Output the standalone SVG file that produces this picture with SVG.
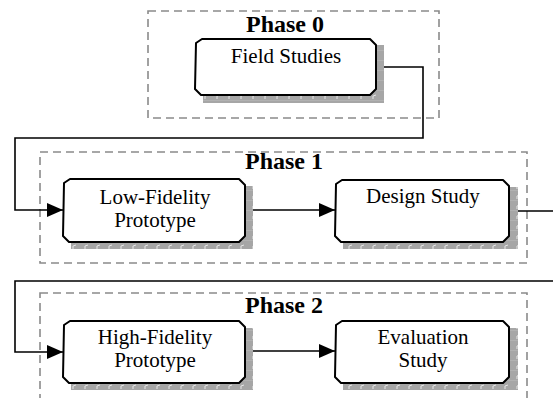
<svg xmlns="http://www.w3.org/2000/svg" width="553" height="398" viewBox="0 0 553 398">
<style>
.phase{fill:none;stroke:#8a8a8a;stroke-width:1.6;stroke-dasharray:8 5}
.ptitle{font-family:"Liberation Serif","Times New Roman",serif;font-weight:bold;font-size:24px;text-anchor:middle;fill:#000}
.label{font-family:"Liberation Serif","Times New Roman",serif;font-size:21px;text-anchor:middle;fill:#000}
.box{fill:#fff;stroke:#000;stroke-width:2;stroke-linejoin:round}
.shadow{fill:url(#tex)}
.conn{fill:none;stroke:#000;stroke-width:1.6}
</style>
<defs>
<pattern id="tex" width="12" height="10" patternUnits="userSpaceOnUse">
<rect width="12" height="10" fill="#a6a6a6"/>
<path d="M1 9 L1 6 L4 5" fill="none" stroke="#e6e6e6" stroke-width="1"/>
<path d="M0 0 H12" stroke="#bdbdbd" stroke-width="1"/>
</pattern>
<marker id="arr" markerWidth="16" markerHeight="14" refX="16" refY="7" orient="auto" markerUnits="userSpaceOnUse">
<path d="M0 0 L16 7 L0 14 Z" fill="#000"/>
</marker>
</defs>

<g id="phase0">
<rect class="phase" x="148" y="11" width="291" height="107"/>
<text class="ptitle" x="285" y="32">Phase 0</text>
</g>
<g id="phase1">
<rect class="phase" x="40" y="152" width="487" height="111"/>
<text class="ptitle" x="284" y="169">Phase 1</text>
</g>
<g id="phase2">
<rect class="phase" x="40" y="293" width="487" height="120"/>
<text class="ptitle" x="284" y="313">Phase 2</text>
</g>

<g id="connectors">
<path class="conn" d="M384 67 H423 V138 H15 V210 H63" marker-end="url(#arr)"/>
<path class="conn" d="M253 210 H335" marker-end="url(#arr)"/>
<path class="conn" d="M518 211 H560 V281 H15 V352 H63" marker-end="url(#arr)"/>
<path class="conn" d="M253 351 H335" marker-end="url(#arr)"/>
</g>

<g id="field-studies">
<rect class="shadow" x="203" y="45" width="181" height="58"/>
<path class="box" d="M202 39 H370 L376 45 V89 L370 95 H201 L195 89 L196 43 Z"/>
<text class="label" x="286" y="63">Field Studies</text>
</g>

<g id="low-fidelity">
<rect class="shadow" x="71" y="186" width="182" height="63"/>
<path class="box" d="M70 179 H239 L245 185 V236 L239 242 H69 L63 236 L64 183 Z"/>
<text class="label" x="155" y="204">Low-Fidelity</text>
<text class="label" x="155" y="227">Prototype</text>
</g>

<g id="design-study">
<rect class="shadow" x="343" y="187" width="175" height="62"/>
<path class="box" d="M342 180 H503 L509 186 V236 L503 242 H341 L335 236 L336 184 Z"/>
<text class="label" x="423" y="203">Design Study</text>
</g>

<g id="high-fidelity">
<rect class="shadow" x="71" y="328" width="182" height="62"/>
<path class="box" d="M70 321 H239 L245 327 V377 L239 383 H69 L63 377 L64 325 Z"/>
<text class="label" x="155" y="344">High-Fidelity</text>
<text class="label" x="155" y="367">Prototype</text>
</g>

<g id="evaluation-study">
<rect class="shadow" x="343" y="328" width="175" height="62"/>
<path class="box" d="M342 321 H503 L509 327 V377 L503 383 H341 L335 377 L336 325 Z"/>
<text class="label" x="423" y="344">Evaluation</text>
<text class="label" x="423" y="367">Study</text>
</g>
</svg>
